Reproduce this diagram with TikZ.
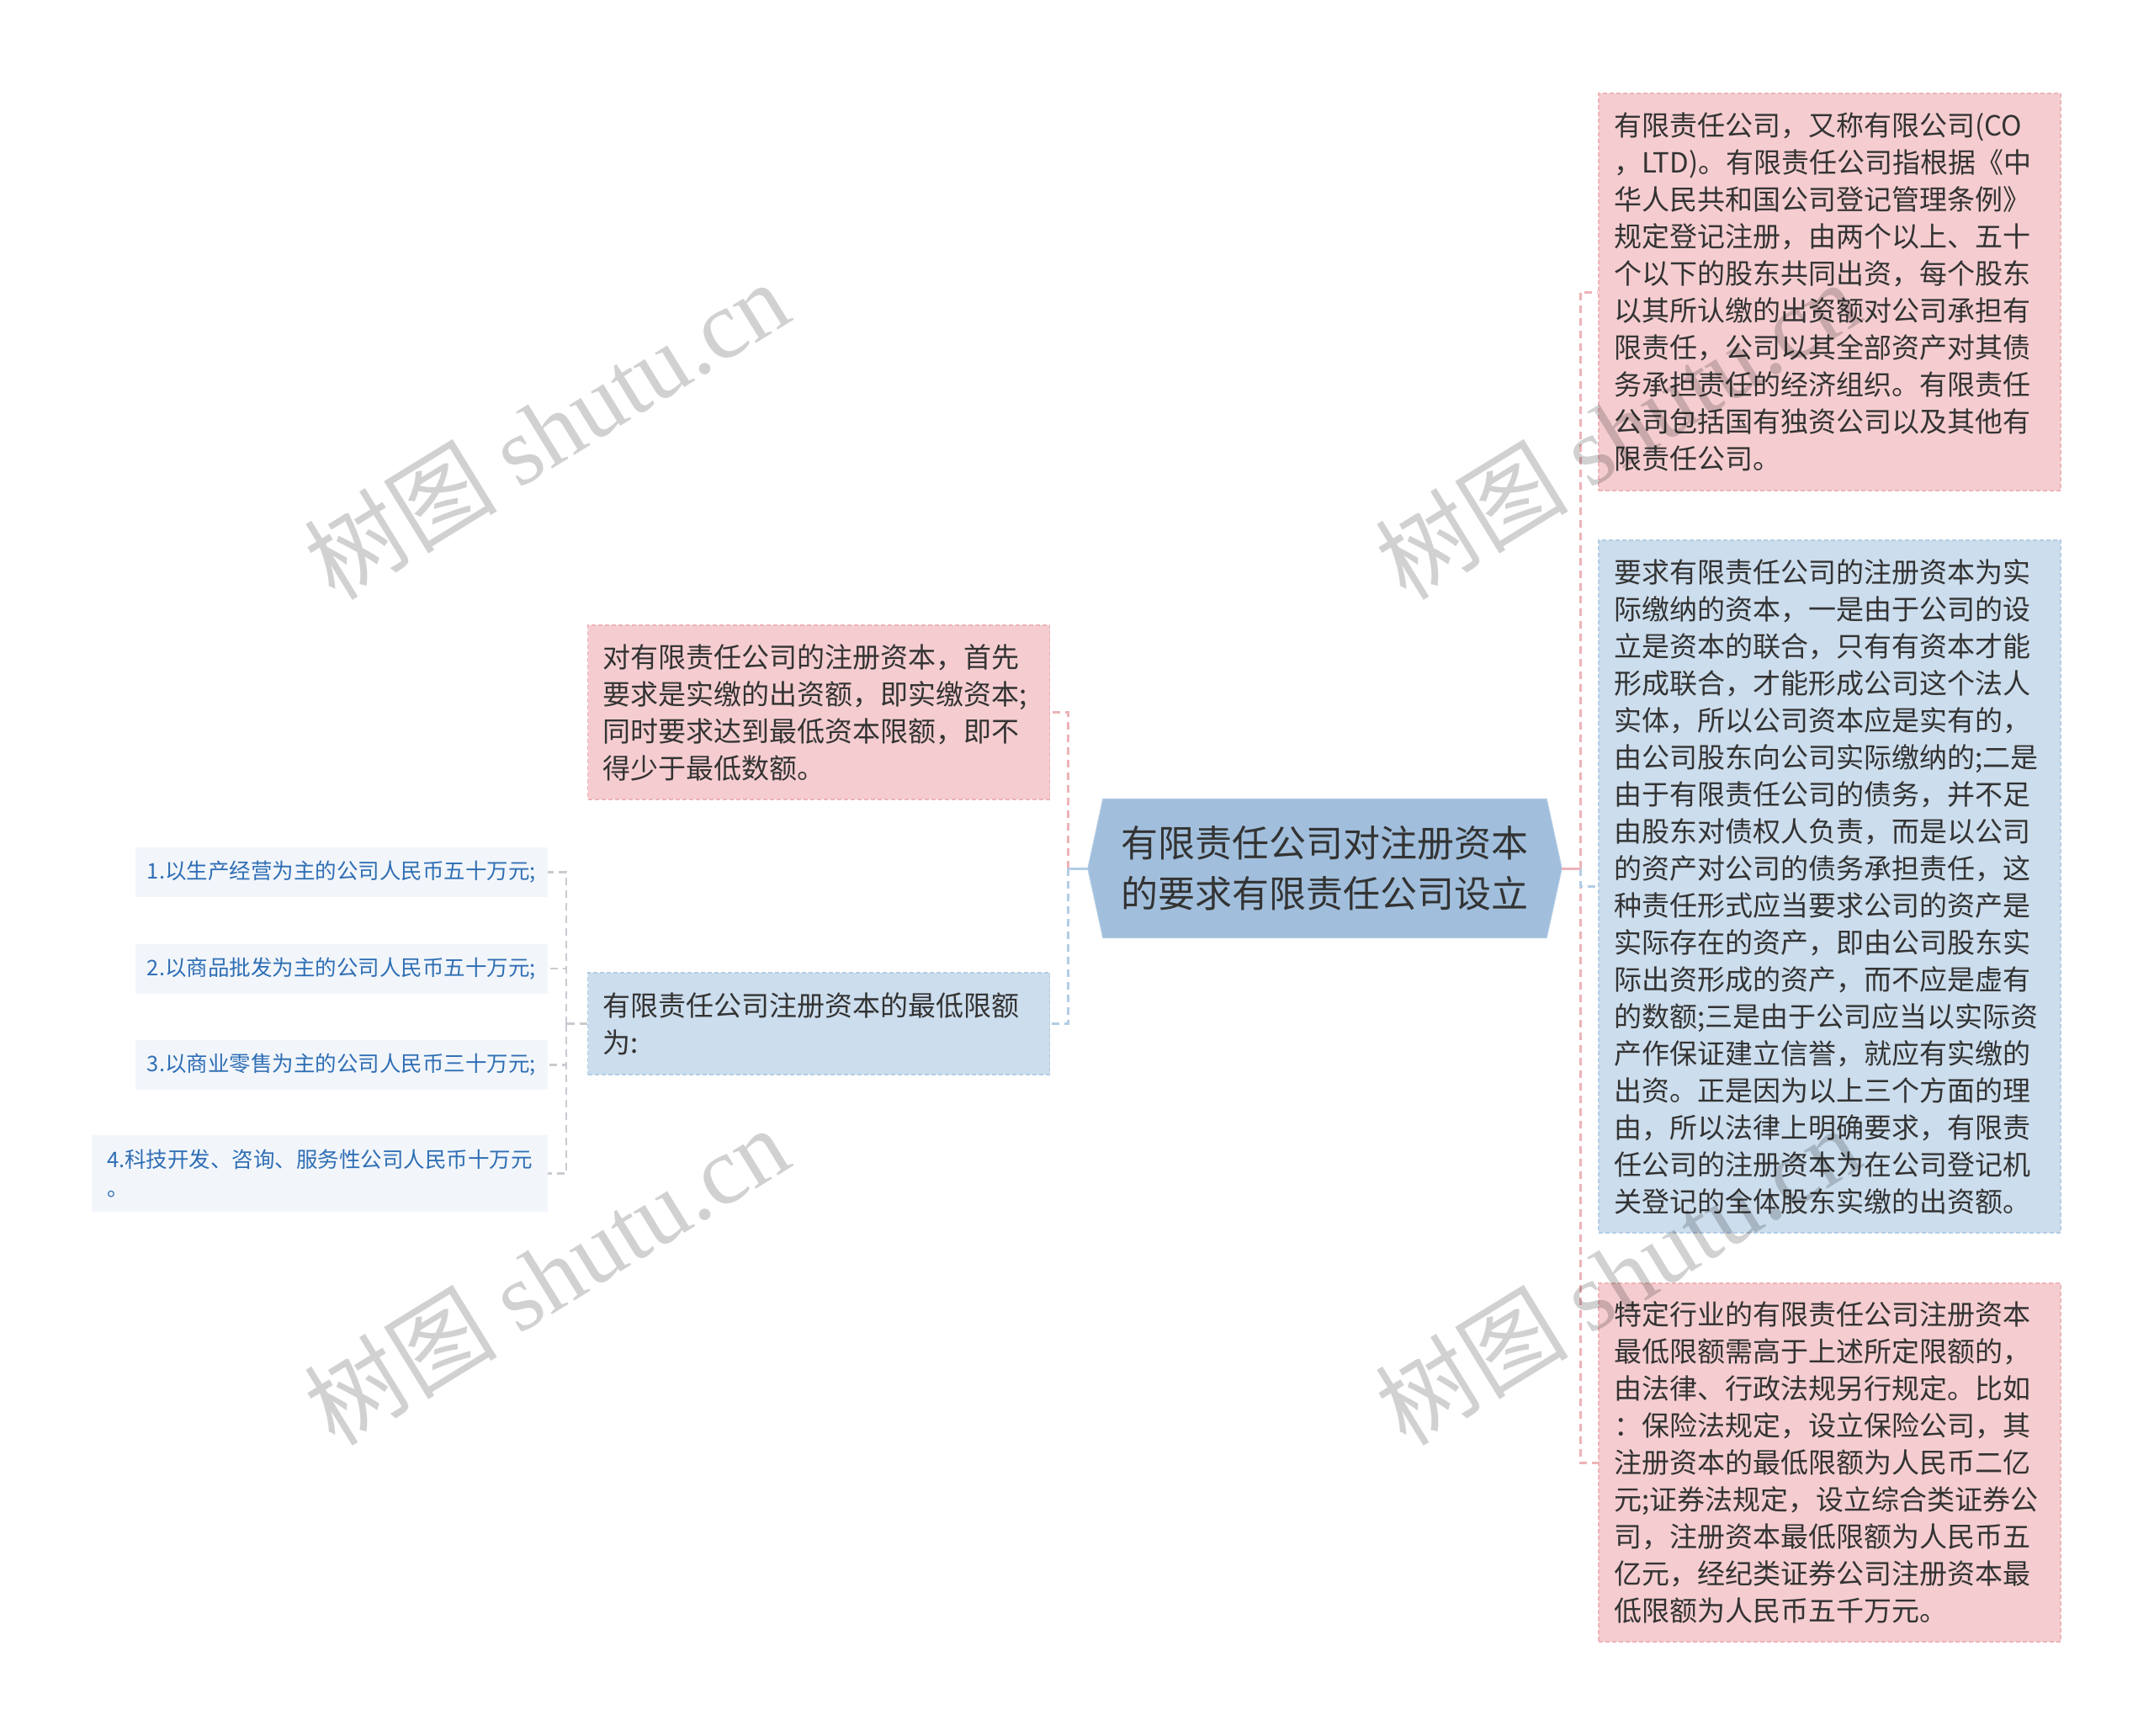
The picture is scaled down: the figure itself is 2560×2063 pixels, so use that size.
\documentclass[tikz,border=0pt]{standalone}
\usepackage{fontspec}
\setmainfont{Noto Sans CJK SC}
\newfontfamily\wmlat{Liberation Serif}
\usetikzlibrary{backgrounds}
\definecolor{pinkfill}{HTML}{F5CDD0}
\definecolor{pinkline}{HTML}{EDB3B8}
\definecolor{bluefill}{HTML}{CCDDED}
\definecolor{blueline}{HTML}{B3CDE5}
\definecolor{rootfill}{HTML}{A1BFDC}
\definecolor{smallfill}{HTML}{F2F6FB}
\definecolor{smalltext}{HTML}{2F6EB4}
\definecolor{txt}{HTML}{333333}
\definecolor{greyline}{HTML}{C8CCD1}
\tikzset{
  bigbox/.style={text width=513pt, inner xsep=18pt, inner ysep=0pt, align=left,
    font=\fontsize{33pt}{44pt}\selectfont, text=txt, dash pattern=on 5pt off 3pt, line width=1.5pt},
  pinkbox/.style={bigbox, fill=pinkfill, draw=pinkline},
  bluebox/.style={bigbox, fill=bluefill, draw=blueline},
  smallbox/.style={fill=smallfill, text=smalltext, font=\fontsize{25.5pt}{34pt}\selectfont,
    inner xsep=14pt, inner ysep=0pt, align=left, anchor=east, minimum height=59pt},
  rootbox/.style={text=txt, font=\fontsize{44pt}{60pt}\selectfont, align=center,
    minimum width=563pt, minimum height=165pt, inner sep=0pt},
  pinkedge/.style={draw=pinkline, line width=3pt, dash pattern=on 9pt off 6pt},
  blueedge/.style={draw=blueline, line width=3pt, dash pattern=on 9pt off 6pt},
  greyedge/.style={draw=greyline, line width=2.5pt, dash pattern=on 9pt off 6pt},
  pinkstub/.style={draw=pinkline, line width=3pt},
  bluestub/.style={draw=blueline, line width=3pt},
  wm/.style={font=\fontsize{115pt}{115pt}\selectfont, text=black, text opacity=0.18, rotate=31.6, inner sep=0pt}
}
\begin{document}
\begin{tikzpicture}[x=1pt, y=-1pt]
\useasboundingbox (0,0) rectangle (2560,2063);

% root
\node[rootbox] (root) at (1574.5,1032) {有限责任公司对注册资本\\的要求有限责任公司设立};
\begin{scope}[on background layer]
\fill[white] (0,0) rectangle (2560,2063);
\fill[rootfill, draw=blueline, line width=1pt] (root.west) -- ([xshift=18pt]root.north west) -- ([xshift=-18pt]root.north east)
  -- (root.east) -- ([xshift=-18pt]root.south east) -- ([xshift=18pt]root.south west) -- cycle;
\end{scope}

% left children
\node[pinkbox, minimum height=207pt] (lp) at (973,846.5) {对有限责任公司的注册资本，首先\\要求是实缴的出资额，即实缴资本;\\同时要求达到最低资本限额，即不\\得少于最低数额。};
\node[bluebox, minimum height=121pt] (lb) at (973,1216.5) {有限责任公司注册资本的最低限额\\为:};

% small nodes
\node[smallbox] (s1) at (651,1036.5) {1.以生产经营为主的公司人民币五十万元;};
\node[smallbox] (s2) at (651,1151) {2.以商品批发为主的公司人民币五十万元;};
\node[smallbox] (s3) at (651,1265.5) {3.以商业零售为主的公司人民币三十万元;};
\node[smallbox, minimum height=91pt, inner xsep=18pt] (s4) at (651,1394.5) {4.科技开发、咨询、服务性公司人民币十万元\\。};

% right children
\node[pinkbox, minimum height=472pt] (r1) at (2174.5,347) {有限责任公司，又称有限公司(CO\\，LTD)。有限责任公司指根据《中\\华人民共和国公司登记管理条例》\\规定登记注册，由两个以上、五十\\个以下的股东共同出资，每个股东\\以其所认缴的出资额对公司承担有\\限责任，公司以其全部资产对其债\\务承担责任的经济组织。有限责任\\公司包括国有独资公司以及其他有\\限责任公司。};
\node[bluebox, minimum height=823pt] (r2) at (2174.5,1053.5) {要求有限责任公司的注册资本为实\\际缴纳的资本，一是由于公司的设\\立是资本的联合，只有有资本才能\\形成联合，才能形成公司这个法人\\实体，所以公司资本应是实有的，\\由公司股东向公司实际缴纳的;二是\\由于有限责任公司的债务，并不足\\由股东对债权人负责，而是以公司\\的资产对公司的债务承担责任，这\\种责任形式应当要求公司的资产是\\实际存在的资产，即由公司股东实\\际出资形成的资产，而不应是虚有\\的数额;三是由于公司应当以实际资\\产作保证建立信誉，就应有实缴的\\出资。正是因为以上三个方面的理\\由，所以法律上明确要求，有限责\\任公司的注册资本为在公司登记机\\关登记的全体股东实缴的出资额。};
\node[pinkbox, minimum height=426pt] (r3) at (2174.5,1738) {特定行业的有限责任公司注册资本\\最低限额需高于上述所定限额的，\\由法律、行政法规另行规定。比如\\：保险法规定，设立保险公司，其\\注册资本的最低限额为人民币二亿\\元;证券法规定，设立综合类证券公\\司，注册资本最低限额为人民币五\\亿元，经纪类证券公司注册资本最\\低限额为人民币五千万元。};

% connectors
\coordinate (lbus) at ([xshift=-23pt]root.west);
\coordinate (rbus) at ([xshift=22pt]root.east);
\coordinate (sbus) at ([xshift=-25pt]lb.west);

\draw[pinkedge] (lbus) |- (lp.east);
\draw[blueedge] (lbus) |- (lb.east);
\draw[bluestub] (root.west) -- (lbus);

\draw[pinkedge] (rbus) |- (r1.west);
\draw[pinkedge] (rbus) |- (r3.west);
\draw[blueedge] (rbus) |- (r2.west);
\draw[pinkstub] (root.east) -- (rbus);

\draw[greyedge] (lb.west) -- (sbus);
\draw[greyedge] (sbus) |- (s1.east);
\draw[greyedge] (sbus) |- (s2.east);
\draw[greyedge] (sbus) |- (s3.east);
\draw[greyedge] (sbus) |- (s4.east);

% watermarks
\node[wm] (w1) at (649,510) {树图 {\wmlat shutu.cn}};
\node[wm] (w2) at (649,1515) {树图 {\wmlat shutu.cn}};
\node[wm] (w3) at (1922,510) {树图 {\wmlat shutu.cn}};
\node[wm] (w4) at (1922,1515) {树图 {\wmlat shutu.cn}};
\end{tikzpicture}
\end{document}
